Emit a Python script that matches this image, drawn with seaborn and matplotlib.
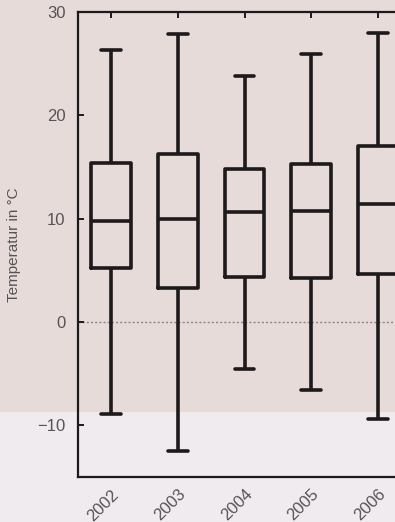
import numpy as np
import pandas as pd
import seaborn as sns
import matplotlib.pyplot as plt
from matplotlib.patches import Rectangle

sns.set_style("white")
plt.rcParams['font.family'] = ['Liberation Sans', 'DejaVu Sans']

# box statistics: lower whisker, Q1, median, Q3, upper whisker
years = ['2002', '2003', '2004', '2005', '2006']
low = [-8.9, -12.5, -4.5, -6.6, -9.4]
q1 = [5.2, 3.3, 4.4, 4.3, 4.6]
med = [9.8, 10.0, 10.6, 10.7, 11.4]
q3 = [15.4, 16.3, 14.8, 15.3, 17.0]
high = [26.3, 27.9, 23.8, 25.9, 28.0]

# five points per year reproduce the quartiles exactly with whis=(0, 100)
rows = []
for i, y in enumerate(years):
    for v in (low[i], q1[i], med[i], q3[i], high[i]):
        rows.append({'year': y, 'temp': v})
df = pd.DataFrame(rows)

bg = '#e7dbda'
ink = '#1c1a1b'
grey = '#575354'

fig = plt.figure(figsize=(3.95, 5.22), dpi=100, facecolor=bg)
# lighter lower part of the photographed page
fig.patches.append(Rectangle((0, 0), 1, 1 - 412 / 522, transform=fig.transFigure,
                             facecolor='#f0ebef', edgecolor='none', zorder=-1))

ax = fig.add_axes([78 / 395, 1 - 477 / 522, 333 / 395, (477 - 12) / 522])
ax.set_facecolor('none')

ax.axhline(0, color='#8a8486', lw=1.0, ls=(0, (1.5, 1.5)), zorder=0)

sns.boxplot(data=df, x='year', y='temp', ax=ax, whis=(0, 100), fill=False,
            color=ink, width=0.6, linewidth=2.6, showfliers=False)

ax.set_xlim(-0.5, 4.5)
ax.set_ylim(-15, 30)
ax.set_yticks([-10, 0, 10, 20, 30])
ax.set_yticklabels(['\u221210', '0', '10', '20', '30'])
ax.set_xlabel('')
ax.set_ylabel('Temperatur in °C', color=grey, fontsize=11, labelpad=12)

for s in ax.spines.values():
    s.set_color(ink)
    s.set_linewidth(1.6)
ax.spines['right'].set_visible(False)

ax.tick_params(axis='both', direction='in', length=4, width=1.4, color=ink,
               labelcolor=grey, labelsize=12)
ax.tick_params(axis='x', top=True, pad=7)
ax.tick_params(axis='y', left=True, pad=9)
for lab in ax.get_xticklabels():
    lab.set_rotation(45)
    lab.set_ha('right')
    lab.set_rotation_mode('anchor')

fig.savefig('out.png', dpi=100, facecolor=bg)
